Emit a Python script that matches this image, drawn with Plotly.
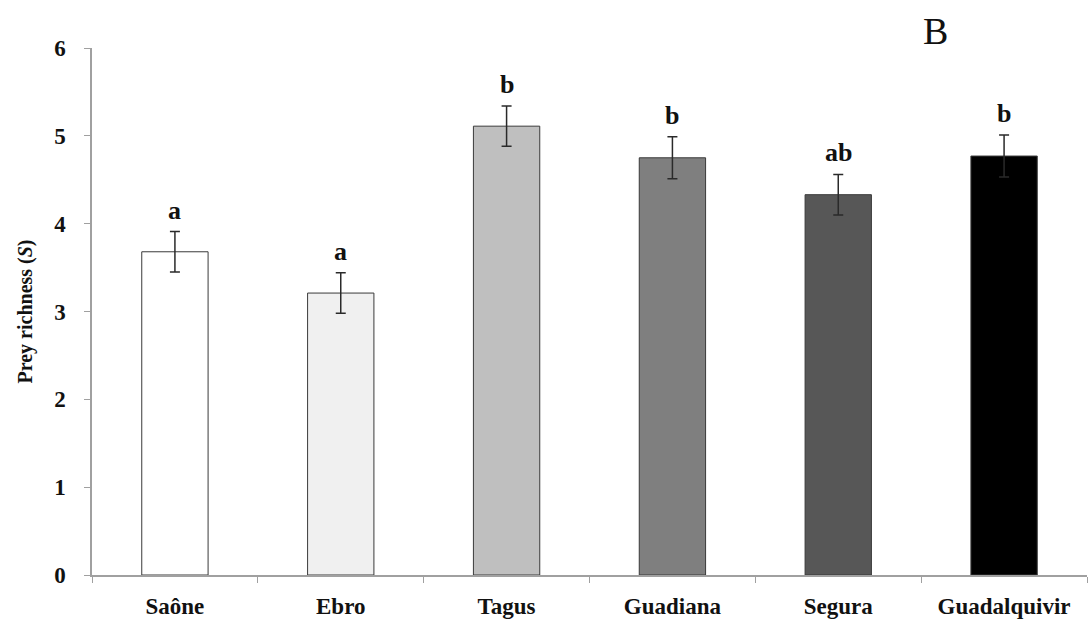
import plotly.graph_objects as go

rivers = ["Saône", "Ebro", "Tagus", "Guadiana", "Segura", "Guadalquivir"]
richness = [3.68, 3.21, 5.11, 4.75, 4.33, 4.77]
se = [0.23, 0.23, 0.23, 0.24, 0.23, 0.24]
letters = ["a", "a", "b", "b", "ab", "b"]
colors = ["#ffffff", "#f0f0f0", "#bfbfbf", "#7f7f7f", "#575757", "#000000"]
y_ticks = [0, 1, 2, 3, 4, 5, 6]

SERIF = "Liberation Serif, Times New Roman, serif"

fig = go.Figure()
fig.add_trace(go.Bar(
    x=rivers, y=richness, width=0.4,
    marker=dict(color=colors, line=dict(color="#3a3a3a", width=1)),
    error_y=dict(type="data", array=se, visible=True, color="#2a2a2a",
                 thickness=1.5, width=5),
    showlegend=False, hoverinfo="skip",
))

for r, v, s, l in zip(rivers, richness, se, letters):
    fig.add_annotation(x=r, y=v + s, text=l, showarrow=False,
                       yanchor="bottom", yshift=5,
                       font=dict(family=SERIF, size=26, color="#111111", weight="bold"))

fig.add_annotation(xref="paper", yref="paper", x=0.862, y=1.0, yanchor="bottom",
                   yshift=-6, text="B", showarrow=False,
                   font=dict(family=SERIF, size=38, color="#111111"))

fig.update_layout(
    width=1090, height=628,
    margin=dict(l=92, r=3, t=48, b=53),
    paper_bgcolor="white", plot_bgcolor="white",
    font=dict(family=SERIF, color="#111111"),
)
fig.update_xaxes(
    type="category", showline=True, linecolor="#a0a0a0", linewidth=1.5,
    ticks="outside", tickson="boundaries", ticklen=6, tickcolor="#a0a0a0",
    tickfont=dict(family=SERIF, size=23, color="#111111", weight="bold"),
    ticklabelstandoff=10, showgrid=False,
)
fig.update_yaxes(
    range=[0, 6], tickvals=y_ticks, showline=True, linecolor="#a0a0a0",
    linewidth=1.5, ticks="outside", ticklen=6, tickcolor="#a0a0a0",
    tickfont=dict(family=SERIF, size=23, color="#111111", weight="bold"),
    ticklabelstandoff=14, showgrid=False, zeroline=False,
    title=dict(text="Prey richness (<i>S</i>)",
               font=dict(family=SERIF, size=20, color="#111111", weight="bold"),
               standoff=16),
)

fig.write_html("out.html")
